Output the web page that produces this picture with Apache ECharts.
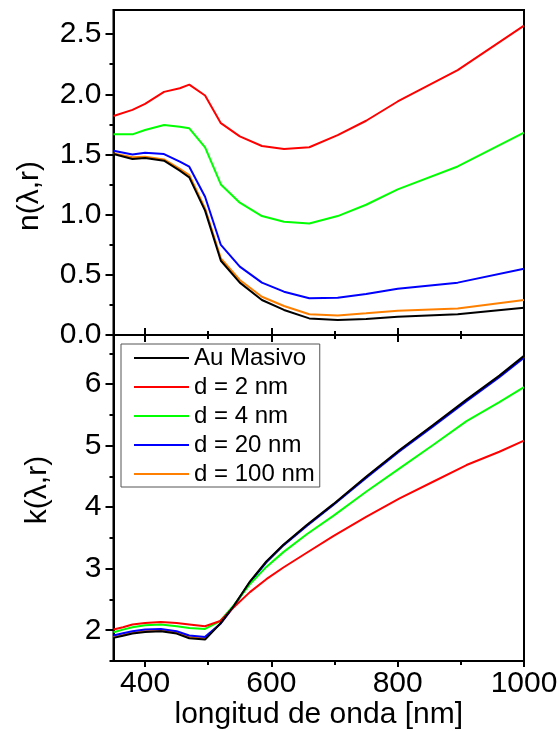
<!DOCTYPE html>
<html>
<head>
<meta charset="utf-8">
<script src="https://cdn.jsdelivr.net/npm/echarts@6/dist/echarts.min.js"></script>
<style>
html,body{margin:0;padding:0;background:#fff;}
#chart{width:560px;height:731px;}
</style>
</head>
<body>
<div id="chart"></div>
<script>
// ---- data ----
var seriesNames = ['Au Masivo', 'd = 2 nm', 'd = 4 nm', 'd = 20 nm', 'd = 100 nm'];
var seriesColors = ['#000000', '#ff0000', '#00ff00', '#0000ff', '#ff8000'];

// refractive index n(λ,r), top panel
var lambdaN = [350, 380, 400, 430, 455, 470, 495, 520, 550, 585, 620, 660, 705, 750, 800, 895, 1000];
var nBulk  = [1.503, 1.462, 1.470, 1.448, 1.365, 1.310, 1.033, 0.617, 0.435, 0.291, 0.208, 0.138, 0.125, 0.133, 0.152, 0.172, 0.227];
var nD2    = [1.82, 1.87, 1.92, 2.02, 2.05, 2.08, 1.99, 1.76, 1.65, 1.57, 1.545, 1.56, 1.66, 1.78, 1.94, 2.20, 2.57];
var nD4    = [1.667, 1.667, 1.703, 1.744, 1.73, 1.717, 1.559, 1.251, 1.099, 0.988, 0.941, 0.927, 0.988, 1.082, 1.21, 1.40, 1.681];
var nD20   = [1.531, 1.50, 1.514, 1.503, 1.44, 1.398, 1.149, 0.748, 0.568, 0.435, 0.36, 0.305, 0.31, 0.341, 0.385, 0.435, 0.551];
var nD100  = [1.509, 1.476, 1.481, 1.459, 1.38, 1.329, 1.052, 0.637, 0.457, 0.318, 0.241, 0.172, 0.163, 0.18, 0.202, 0.221, 0.291];

// extinction coefficient k(λ,r), bottom panel
var lambdaK = [350, 365, 380, 400, 425, 450, 470, 495, 519, 540, 566, 592, 619, 656, 698, 750, 803, 856, 909, 961, 1000];
var kBulk  = [1.876, 1.91, 1.946, 1.973, 1.984, 1.946, 1.870, 1.848, 2.107, 2.39, 2.79, 3.12, 3.39, 3.71, 4.050, 4.495, 4.930, 5.337, 5.75, 6.14, 6.461];
var kD2    = [2.011, 2.05, 2.092, 2.119, 2.135, 2.119, 2.095, 2.065, 2.15, 2.37, 2.62, 2.83, 3.02, 3.26, 3.53, 3.844, 4.143, 4.414, 4.686, 4.902, 5.082];
var kD4    = [1.968, 2.01, 2.049, 2.081, 2.092, 2.065, 2.035, 2.022, 2.15, 2.40, 2.75, 3.03, 3.27, 3.56, 3.86, 4.251, 4.632, 5.011, 5.40, 5.71, 5.951];
var kD20   = [1.913, 1.95, 1.984, 2.011, 2.022, 1.984, 1.915, 1.892, 2.10, 2.38, 2.78, 3.105, 3.38, 3.695, 4.035, 4.475, 4.91, 5.315, 5.725, 6.115, 6.43];
var kD100  = [1.89, 1.925, 1.96, 1.99, 2.00, 1.96, 1.89, 1.865, 2.105, 2.385, 2.785, 3.11, 3.385, 3.705, 4.045, 4.49, 4.92, 5.33, 5.74, 6.13, 6.45];

// ticks
var xMajor = [400, 600, 800, 1000];
var xMinor = [500, 700, 900];
var nMajor = [0, 0.5, 1.0, 1.5, 2.0, 2.5];
var nMinor = [0.25, 0.75, 1.25, 1.75, 2.25];
var kMajor = [2, 3, 4, 5, 6];
var kMinor = [1.5, 2.5, 3.5, 4.5, 5.5, 6.5];

// ---- chart ----
var FONT = 'Liberation Sans, Arial, Helvetica, sans-serif';
function pairs(xs, ys) { return xs.map(function (x, i) { return [x, ys[i]]; }); }

var chart = echarts.init(document.getElementById('chart'), null, {renderer: 'canvas'});

function xAx(grid, pos, major, vals, len, labels, extra) {
  var a = {
    type: 'value', gridIndex: grid, position: pos, min: 350, max: 1000,
    axisLine: {show: major, onZero: false, lineStyle: {color: '#000', width: 2}},
    axisTick: {show: true, customValues: vals, length: len, inside: false, lineStyle: {color: '#000', width: 2}},
    axisLabel: {show: labels, customValues: vals, color: '#000', fontSize: 30, fontFamily: FONT, margin: 8,
      formatter: function (v) { return String(v); }},
    splitLine: {show: false}
  };
  if (extra) for (var k in extra) a[k] = extra[k];
  return a;
}
function yAx(grid, min, max, major, vals, len, labels, fmt, extra) {
  var a = {
    type: 'value', gridIndex: grid, position: 'left', min: min, max: max,
    axisLine: {show: major, onZero: false, lineStyle: {color: '#000', width: 2}},
    axisTick: {show: true, customValues: vals, length: len, inside: false, lineStyle: {color: '#000', width: 2}},
    axisLabel: {show: labels, customValues: vals, color: '#000', fontSize: 30, fontFamily: FONT, margin: 12,
      formatter: fmt},
    splitLine: {show: false}
  };
  if (extra) for (var k in extra) a[k] = extra[k];
  return a;
}

var topSeries = [nBulk, nD2, nD4, nD20, nD100];
var botSeries = [kBulk, kD2, kD4, kD20, kD100];
var drawOrder = [4, 3, 2, 1, 0];
var series = [];
drawOrder.forEach(function (i) {
  series.push({
    name: seriesNames[i], type: 'line', xAxisIndex: 0, yAxisIndex: 0,
    data: pairs(lambdaN, topSeries[i]), symbol: 'none', showSymbol: false,
    lineStyle: {color: seriesColors[i], width: 2}, itemStyle: {color: seriesColors[i]}
  });
});
drawOrder.forEach(function (i) {
  series.push({
    name: seriesNames[i], type: 'line', xAxisIndex: 4, yAxisIndex: 2,
    data: pairs(lambdaK, botSeries[i]), symbol: 'none', showSymbol: false,
    lineStyle: {color: seriesColors[i], width: 2}, itemStyle: {color: seriesColors[i]}
  });
});

var option = {
  animation: false,
  backgroundColor: '#fff',
  textStyle: {fontFamily: FONT},
  grid: [
    {left: 113.5, right: 36, top: 10, height: 325, show: true, borderColor: '#000', borderWidth: 2,
      backgroundColor: 'transparent', containLabel: false, outerBoundsMode: 'none'},
    {left: 113.5, right: 36, top: 335, height: 326, show: true, borderColor: '#000', borderWidth: 2,
      backgroundColor: 'transparent', containLabel: false, outerBoundsMode: 'none'}
  ],
  xAxis: [
    xAx(0, 'bottom', true, xMajor, 7, false),
    xAx(0, 'bottom', false, xMinor, 4, false),
    xAx(1, 'top', true, xMajor, 7, false),
    xAx(1, 'top', false, xMinor, 4, false),
    xAx(1, 'bottom', true, xMajor, 6, true, {
      name: 'longitud de onda [nm]', nameLocation: 'middle', nameGap: 36,
      nameTextStyle: {color: '#000', fontSize: 30, fontFamily: FONT}
    }),
    xAx(1, 'bottom', false, xMinor, 4, false)
  ],
  yAxis: [
    yAx(0, 0, 2.7, true, nMajor, 8, true, function (v) { return v.toFixed(1); }, {
      name: 'n(λ,r)', nameLocation: 'middle', nameGap: 69,
      nameTextStyle: {color: '#000', fontSize: 30, fontFamily: FONT, padding: [0, 47, 0, 0]}
    }),
    yAx(0, 0, 2.7, false, nMinor, 4, false),
    yAx(1, 1.5, 6.8, true, kMajor, 8, true, function (v) { return String(v); }, {
      name: 'k(λ,r)', nameLocation: 'middle', nameGap: 61,
      nameTextStyle: {color: '#000', fontSize: 30, fontFamily: FONT, padding: [0, 0, 0, 16]}
    }),
    yAx(1, 1.5, 6.8, false, kMinor, 4, false)
  ],
  legend: {
    data: seriesNames, orient: 'vertical', left: 121, top: 344,
    icon: 'rect', itemWidth: 55, itemHeight: 2, itemGap: 5,
    padding: [2, 5, 1, 13],
    backgroundColor: '#fff', borderColor: '#555', borderWidth: 1,
    textStyle: {color: '#000', fontSize: 24, fontFamily: FONT, lineHeight: 24}
  },
  series: series
};
chart.setOption(option);
</script>
</body>
</html>
